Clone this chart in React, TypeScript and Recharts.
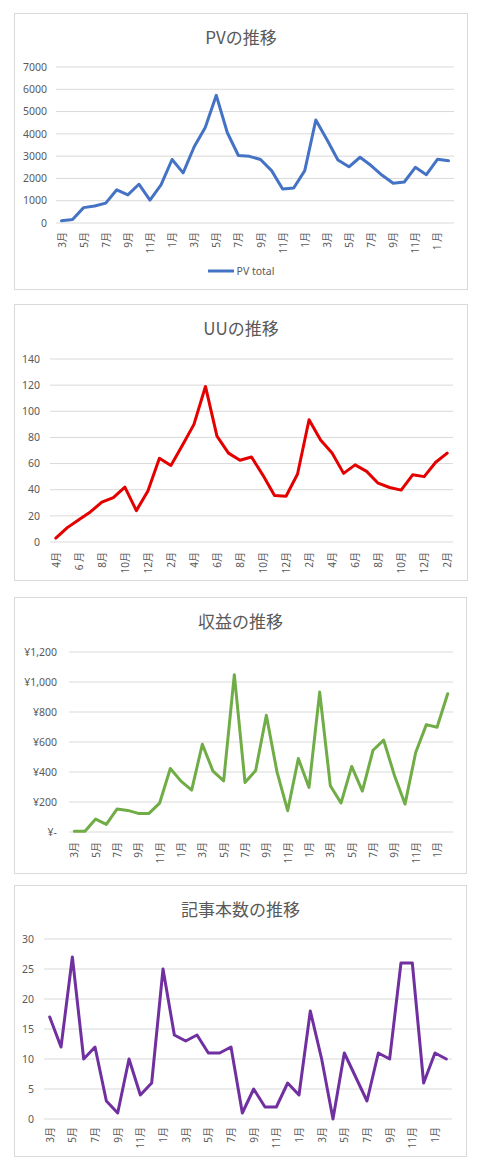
import React from "react";
import { LineChart, Line, XAxis, YAxis, CartesianGrid, Legend } from "recharts";

// ---------- data ----------
const pvMonths = [
  "3月","4月","5月","6月","7月","8月","9月","10月","11月","12月","1月","2月",
  "3月","4月","5月","6月","7月","8月","9月","10月","11月","12月","1月","2月",
  "3月","4月","5月","6月","7月","8月","9月","10月","11月","12月","1 月","2月",
];
const pvValues = [
  100, 160, 690, 760, 890, 1490, 1260, 1740, 1030, 1710, 2850, 2250,
  3420, 4290, 5730, 4050, 3030, 2990, 2850, 2350, 1530, 1570, 2350, 4620,
  3750, 2830, 2520, 2950, 2580, 2140, 1780, 1840, 2500, 2170, 2860, 2790,
];
const pvSeriesName = "PV total";
const pvTicks = [0, 1000, 2000, 3000, 4000, 5000, 6000, 7000];

const uuMonths = [
  "4月","5月","6 月","7月","8月","9月","10月","11月","12月","1月","2月","3月",
  "4月","5月","6月","7月","8月","9月","10月","11月","12月","1月","2月","3月",
  "4月","5月","6月","7月","8月","9月","10月","11月","12月","1月","2月",
];
const uuValues = [
  3, 11, 17, 23, 30.5, 34, 42, 24, 39, 64, 58.5, 74,
  90, 119, 81, 68, 62.5, 65, 51, 35.5, 35, 52, 93.5, 78,
  68, 52.5, 59, 54, 45, 41.7, 39.7, 51.4, 50, 61, 68,
];
const uuTicks = [0, 20, 40, 60, 80, 100, 120, 140];

const revMonths = [
  "3月","4月","5月","6月","7月","8月","9月","10月","11月","12月","1月","2月",
  "3月","4月","5月","6月","7月","8月","9月","10月","11月","12月","1月","2月",
  "3月","4月","5月","6月","7月","8月","9月","10月","11月","12月","1月","2月",
];
const revValues = [
  5, 5, 86, 51, 153, 144, 124, 124, 193, 423, 339, 279,
  585, 406, 341, 1049, 330, 410, 778, 401, 142, 490, 297, 933,
  308, 193, 437, 273, 545, 612, 379, 186, 530, 716, 698, 922,
];
const revTicks = [0, 200, 400, 600, 800, 1000, 1200];

const artMonths = revMonths;
const artValues = [
  17, 12, 27, 10, 12, 3, 1, 10, 4, 6, 25, 14,
  13, 14, 11, 11, 12, 1, 5, 2, 2, 6, 4, 18,
  10, 0, 11, 7, 3, 11, 10, 26, 26, 6, 11, 10,
];
const artTicks = [0, 5, 10, 15, 20, 25, 30];

const titles = ["PVの推移", "UUの推移", "収益の推移", "記事本数の推移"];

// ---------- styling ----------
const TEXT = "#595959";
const GRID = "#d9d9d9";
const FONT = "'Noto Sans', 'Noto Sans CJK JP', sans-serif";

const plain = (v: number) => String(v);
const yen = (v: number) => {
  if (v === 0) return "¥-";
  const s = String(v);
  return "¥" + s.replace(/\B(?=(\d{3})+(?!\d))/g, ",");
};

type PanelProps = {
  box: { left: number; top: number; width: number; height: number };
  title: string;
  months: string[];
  values: number[];
  name: string;
  color: string;
  ticks: number[];
  fmt: (v: number) => string;
  margin: { top: number; right: number; bottom: number };
  yWidth: number;
  xHeight: number;
  yGap: number;
  xGap: number;
  legend?: boolean;
};

function Panel(p: PanelProps) {
  const cw = p.box.width - 2;
  const ch = p.box.height - 2;
  const data = p.months.map((m, i) => ({ idx: i, m, v: p.values[i] }));
  const plotW = cw - p.margin.right - p.yWidth;
  const pad = Math.round((plotW / (2 * p.months.length)) * 10) / 10;
  return (
    <div
      style={{
        position: "absolute",
        left: p.box.left,
        top: p.box.top,
        width: p.box.width,
        height: p.box.height,
        border: `1px solid ${GRID}`,
        boxSizing: "border-box",
        background: "#fff",
      }}
    >
      <div
        style={{
          position: "absolute",
          left: 0,
          top: 11,
          width: "100%",
          height: 24,
          lineHeight: "24px",
          textAlign: "center",
          fontSize: 17,
          color: TEXT,
          fontFamily: "'Noto Sans CJK JP', 'Noto Sans', sans-serif",
          zIndex: 2,
        }}
      >
        {p.title}
      </div>
      <LineChart
        width={cw}
        height={ch}
        data={data}
        margin={{ top: p.margin.top, right: p.margin.right, left: 0, bottom: p.margin.bottom }}
      >
        <CartesianGrid vertical={false} stroke={GRID} strokeWidth={1} />
        <XAxis
          dataKey="idx"
          type="category"
          padding={{ left: pad, right: pad }}
          interval={1}
          axisLine={false}
          tickLine={false}
          tickSize={0}
          tickMargin={0}
          height={p.xHeight}
          tickFormatter={(v: any) => p.months[Number(v)]}
          tick={(t: any) => (
            <text
              transform={`translate(${t.x},${t.y + p.xGap}) rotate(-90)`}
              textAnchor="end"
              dominantBaseline="central"
              fontSize={10}
              fill={TEXT}
              fontFamily={FONT}
            >
              {p.months[Number(t.payload.value)]}
            </text>
          )}
        />
        <YAxis
          domain={[p.ticks[0], p.ticks[p.ticks.length - 1]]}
          ticks={p.ticks}
          interval={0}
          width={p.yWidth}
          axisLine={false}
          tickLine={false}
          tickSize={0}
          tickMargin={p.yGap}
          tick={(t: any) => (
            <text
              x={t.x}
              y={t.y}
              dy="0.36em"
              textAnchor="end"
              fontSize={10.5}
              fill={TEXT}
              fontFamily={FONT}
            >
              {p.fmt(t.payload.value)}
            </text>
          )}
        />
        {p.legend && (
          <Legend
            verticalAlign="bottom"
            wrapperStyle={{ left: 0, width: cw, height: 20, bottom: p.margin.bottom }}
            content={(lp: any) => (
              <div
                style={{
                  display: "flex",
                  alignItems: "center",
                  justifyContent: "center",
                  height: 20,
                  fontSize: 10.5,
                  color: TEXT,
                  fontFamily: FONT,
                }}
              >
                {(lp.payload || []).map((e: any, i: number) => (
                  <span key={i} style={{ display: "flex", alignItems: "center" }}>
                    <svg width={26} height={4} style={{ display: "block" }}>
                      <line x1={0} y1={2} x2={26} y2={2} stroke={e.color} strokeWidth={3} />
                    </svg>
                    <span style={{ marginLeft: 3 }}>{e.value}</span>
                  </span>
                ))}
              </div>
            )}
          />
        )}
        <Line
          type="linear"
          dataKey="v"
          name={p.name}
          stroke={p.color}
          strokeWidth={3}
          strokeLinejoin="round"
          strokeLinecap="round"
          dot={false}
          activeDot={false}
          isAnimationActive={false}
        />
      </LineChart>
    </div>
  );
}

export default function App() {
  return (
    <div style={{ position: "absolute", left: 0, top: 0, width: 480, height: 1170, background: "#fff" }}>
      <Panel
        box={{ left: 14, top: 13, width: 454, height: 277 }}
        title={titles[0]}
        months={pvMonths}
        values={pvValues}
        name={pvSeriesName}
        color="#4472C4"
        ticks={pvTicks}
        fmt={plain}
        margin={{ top: 53, right: 13, bottom: 8 }}
        yWidth={41}
        xHeight={38}
        yGap={9}
        xGap={9}
        legend
      />
      <Panel
        box={{ left: 14, top: 304, width: 454, height: 277 }}
        title={titles[1]}
        months={uuMonths}
        values={uuValues}
        name="UU"
        color="#E50000"
        ticks={uuTicks}
        fmt={plain}
        margin={{ top: 54, right: 14, bottom: 0 }}
        yWidth={35}
        xHeight={38}
        yGap={10}
        xGap={10}
      />
      <Panel
        box={{ left: 14, top: 597, width: 453, height: 277 }}
        title={titles[2]}
        months={revMonths}
        values={revValues}
        name="収益"
        color="#70AD47"
        ticks={revTicks}
        fmt={yen}
        margin={{ top: 54, right: 13, bottom: 0 }}
        yWidth={54}
        xHeight={41}
        yGap={12}
        xGap={10}
      />
      <Panel
        box={{ left: 14, top: 885, width: 453, height: 272 }}
        title={titles[3]}
        months={artMonths}
        values={artValues}
        name="記事本数"
        color="#7030A0"
        ticks={artTicks}
        fmt={plain}
        margin={{ top: 53, right: 14, bottom: 0 }}
        yWidth={29}
        xHeight={37}
        yGap={10}
        xGap={8}
      />
    </div>
  );
}
